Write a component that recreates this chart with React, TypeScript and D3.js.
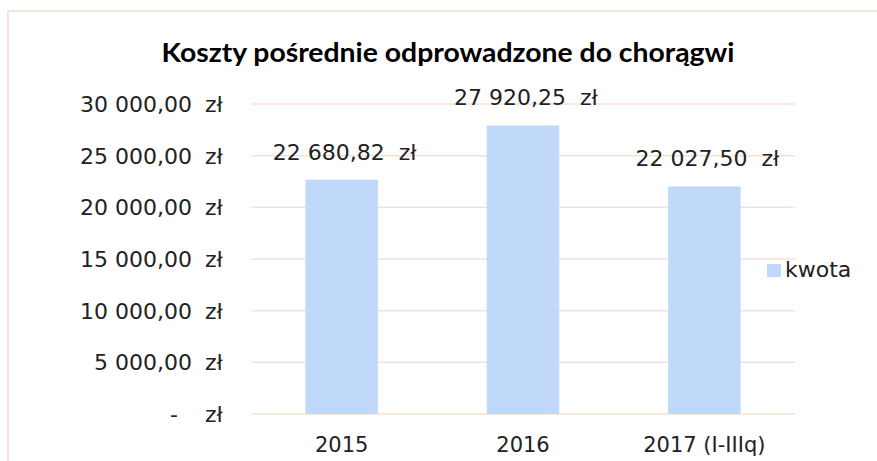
import React from "react";
import * as d3 from "d3";

const categories: string[] = ["2015", "2016", "2017 (I-IIIq)"];
const kwota: number[] = [22680.82, 27920.25, 22027.5];
const yTicks: number[] = [0, 5000, 10000, 15000, 20000, 25000, 30000];
const seriesName = "kwota";
const title = "Koszty pośrednie odprowadzone do chorągwi";

const W = 877;
const H = 461;
const plot = { left: 251, right: 795, top: 104, bottom: 414 };

const pl = d3.formatLocale({
  decimal: ",",
  thousands: "\u00a0",
  grouping: [3],
  currency: ["", " zł"],
});
const fmt = pl.format(",.2f");

const numFont = "'DejaVu Sans', sans-serif";
const textColor = "#222";
const barColor = "#c0d9fb";
const gridColor = "#f8e0d3";
const borderColor = "#fbe3d6";

export default function App() {
  const x = d3
    .scaleBand<string>()
    .domain(categories)
    .range([plot.left, plot.right])
    .paddingInner(0.6)
    .paddingOuter(0.3);
  const y = d3.scaleLinear().domain([0, 30000]).range([plot.bottom, plot.top]);

  return (
    <svg
      width={W}
      height={H}
      style={{ position: "absolute", left: 0, top: 0, background: "#fff" }}
    >
      <rect x={0} y={0} width={W} height={H} fill="#fff" />
      <rect
        x={8}
        y={11}
        width={W + 20}
        height={H + 20}
        fill="none"
        stroke={borderColor}
        strokeWidth={2}
      />
      <text
        x={448}
        y={62}
        textAnchor="middle"
        fontFamily="Lato, sans-serif"
        fontWeight={700}
        fontSize={26}
        textLength={573}
        lengthAdjust="spacingAndGlyphs"
        fill="#000"
      >
        {title}
      </text>
      {yTicks.map((t) => (
        <g key={t}>
          <line
            x1={plot.left}
            x2={plot.right}
            y1={y(t)}
            y2={y(t)}
            stroke={gridColor}
            strokeWidth={1.5}
          />
          <text
            x={t === 0 ? 178 : 192}
            y={y(t) + 8}
            textAnchor="end"
            fontFamily={numFont}
            fontSize={22}
            fill={textColor}
          >
            {t === 0 ? "-" : fmt(t)}
          </text>
          <text
            x={205}
            y={y(t) + 8}
            textAnchor="start"
            fontFamily={numFont}
            fontSize={22}
            fill={textColor}
          >
            zł
          </text>
        </g>
      ))}
      {categories.map((c, i) => (
        <g key={c}>
          <rect
            x={x(c)}
            y={y(kwota[i])}
            width={x.bandwidth()}
            height={y(0) - y(kwota[i])}
            fill={barColor}
          />
          <text
            x={(x(c) as number) + x.bandwidth() / 2 + 3}
            y={y(kwota[i]) - 20}
            textAnchor="middle"
            fontFamily={numFont}
            fontSize={22}
            fill={textColor}
          >
            {fmt(kwota[i]) + "\u00a0\u00a0zł"}
          </text>
          <text
            x={(x(c) as number) + x.bandwidth() / 2}
            y={452}
            textAnchor="middle"
            fontFamily={numFont}
            fontSize={21}
            fill={textColor}
          >
            {c}
          </text>
        </g>
      ))}
      <rect x={767} y={264} width={14} height={13} fill={barColor} />
      <text
        x={785}
        y={277}
        fontFamily={numFont}
        fontSize={22}
        fill={textColor}
      >
        {seriesName}
      </text>
    </svg>
  );
}
